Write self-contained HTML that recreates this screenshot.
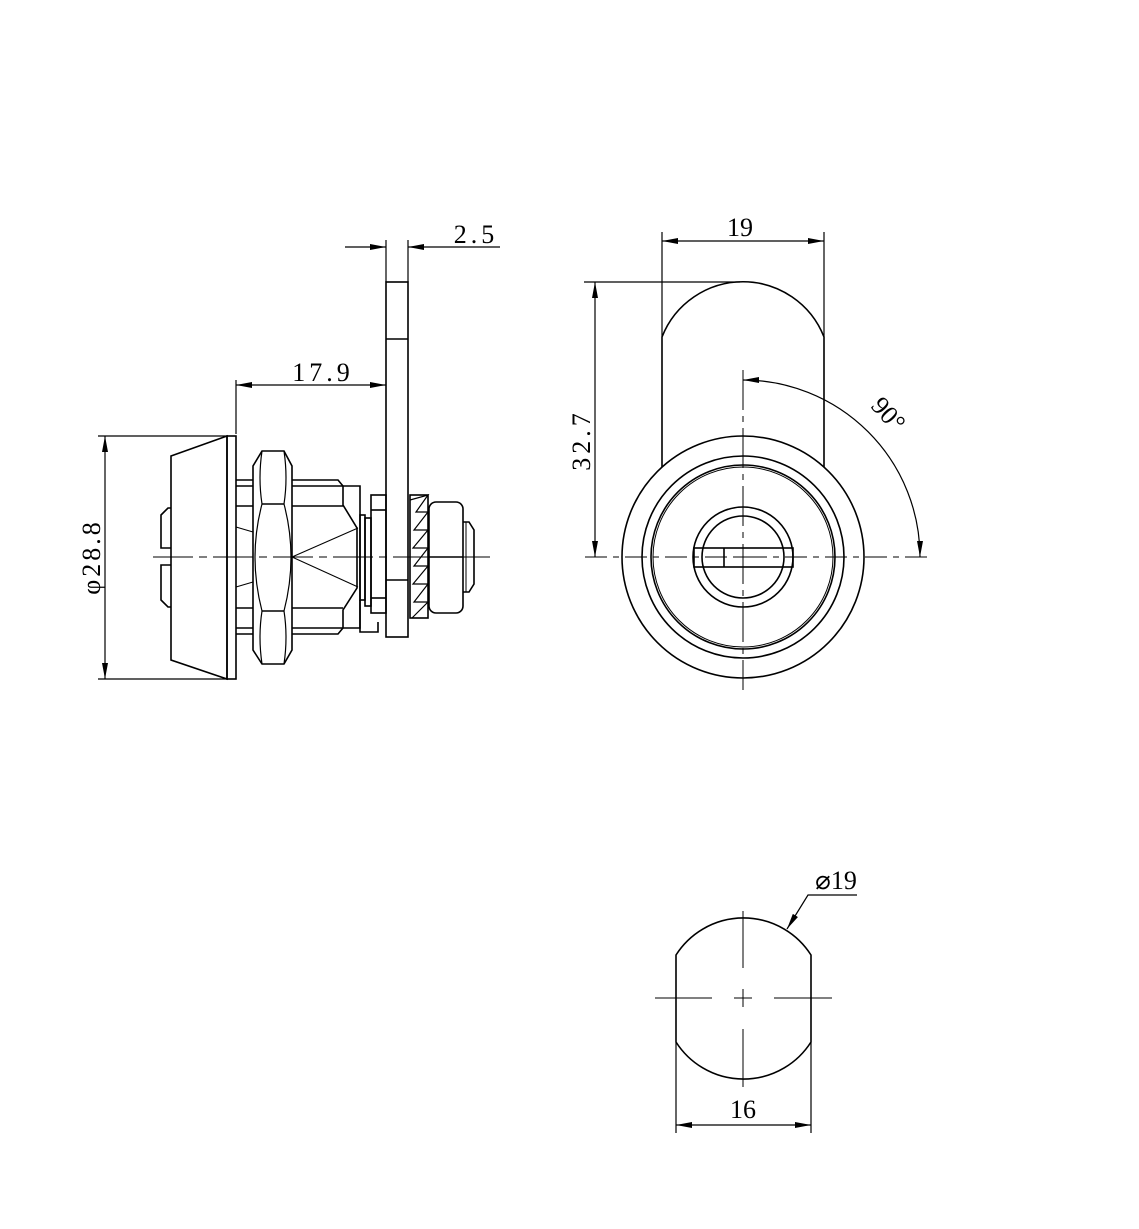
<!DOCTYPE html>
<html><head><meta charset="utf-8"><style>html,body{margin:0;padding:0;background:#fff}svg{display:block}text{font-family:"Liberation Serif",serif;fill:#000}</style></head>
<body>
<svg width="1139" height="1229" viewBox="0 0 1139 1229" xmlns="http://www.w3.org/2000/svg">
<defs>
<marker id="a" viewBox="0 0 16 6" refX="16" refY="3" markerWidth="16" markerHeight="6" orient="auto-start-reverse" markerUnits="userSpaceOnUse"><path d="M0,0 L16,3 L0,6z" fill="#000"/></marker>
</defs>
<g fill="none" stroke="#000" stroke-width="1.6">
<!-- SIDE VIEW -->
<line x1="153" y1="557" x2="490" y2="557" stroke-width="1" stroke-dasharray="40,6,8,6"/>
<polygon points="171,456 227,436 227,679 171,660"/>
<rect x="227" y="436" width="9" height="243"/>
<path d="M171,508 L168,508 L161,515 L161,548 L171,548"/>
<path d="M171,607 L168,607 L161,600 L161,565 L171,565"/>
<line x1="236" y1="480" x2="253" y2="480"/><line x1="236" y1="486" x2="253" y2="486"/>
<line x1="236" y1="506" x2="253" y2="506"/><line x1="236" y1="608" x2="253" y2="608"/>
<line x1="236" y1="628" x2="253" y2="628"/><line x1="236" y1="634" x2="253" y2="634"/>
<line x1="236" y1="527" x2="253" y2="532" stroke-width="1"/><line x1="236" y1="587" x2="253" y2="582" stroke-width="1"/>
<!-- hex nut -->
<path d="M262,451 L284,451 L292,466 L292,650 L284,664 L262,664 L253,650 L253,466 Z"/>
<path d="M262,451 Q258,478 262,504 M284,451 Q288,478 284,504" stroke-width="1.2"/>
<line x1="262" y1="504" x2="284" y2="504"/>
<line x1="262" y1="611" x2="284" y2="611"/>
<path d="M262,504 Q248,557 262,611 M284,504 Q298,557 284,611" stroke-width="1.2"/>
<path d="M262,611 Q258,637 262,664 M284,611 Q288,637 284,664" stroke-width="1.2"/>
<!-- body right of nut -->
<path d="M292,480 L338,480 L343,486 L343,505 L357,528 L357,588 L343,610 L343,628 L338,634 L292,634"/>
<line x1="292" y1="486" x2="343" y2="486"/><line x1="292" y1="506" x2="343" y2="506"/>
<line x1="292" y1="608" x2="343" y2="608"/><line x1="292" y1="628" x2="343" y2="628"/>
<path d="M343,486 L360,486 L360,628 L343,628"/>
<line x1="292" y1="557" x2="358" y2="528" stroke-width="1"/><line x1="292" y1="557" x2="358" y2="587" stroke-width="1"/>
<rect x="360" y="515" width="5" height="85"/>
<path d="M360,600 L360,632 L378,632 L378,622"/>
<rect x="365" y="518" width="6" height="88"/>
<rect x="371" y="495" width="15" height="118"/>
<line x1="371" y1="510" x2="386" y2="510"/><line x1="371" y1="598" x2="386" y2="598"/>
<rect x="386" y="282" width="22" height="355"/>
<line x1="386" y1="339" x2="408" y2="339"/>
<line x1="386" y1="580" x2="408" y2="580"/>
<rect x="410" y="495" width="18" height="123"/>
<path d="M410,500 L428,495 L416,512 L428,512 L414,530 L428,530 L413,548 L428,548 L414,566 L428,566 L413,584 L428,584 L414,602 L428,602 L412,618" stroke-width="1.2"/>
<rect x="429" y="502" width="34" height="111" rx="7"/>
<line x1="429" y1="557" x2="463" y2="557"/>
<path d="M463,522 L469,522 L474,530 L474,584 L469,592 L463,592"/>
<line x1="466" y1="522" x2="466" y2="592" stroke-width="1"/>
</g>
<g stroke="#000" stroke-width="1.2" fill="none">
<line x1="227" y1="436" x2="98" y2="436"/><line x1="227" y1="679" x2="98" y2="679"/>
<line x1="105" y1="436" x2="105" y2="679" marker-start="url(#a)" marker-end="url(#a)"/>
<line x1="236" y1="380" x2="236" y2="434"/>
<line x1="236" y1="385" x2="386" y2="385" marker-start="url(#a)" marker-end="url(#a)"/>
<line x1="386" y1="240" x2="386" y2="282"/><line x1="408" y1="240" x2="408" y2="282"/>
<line x1="345" y1="247" x2="386" y2="247" marker-end="url(#a)"/>
<line x1="500" y1="247" x2="408" y2="247" marker-end="url(#a)"/>
</g>
<text x="323" y="381" font-size="26" text-anchor="middle" letter-spacing="4">17.9</text>
<text x="476" y="243" font-size="26" text-anchor="middle" letter-spacing="4">2.5</text>
<text transform="translate(100,557) rotate(-90)" font-size="26" text-anchor="middle" letter-spacing="3">φ28.8</text>

<!-- FRONT VIEW -->
<g fill="none" stroke="#000" stroke-width="1.6">
<path d="M662,467 L662,337 A87,87 0 0 1 824,337 L824,467"/>
<circle cx="743" cy="557" r="121"/>
<circle cx="743" cy="557" r="101"/>
<circle cx="743" cy="557" r="92"/>
<circle cx="743" cy="557" r="90" stroke-width="1"/>
<circle cx="743" cy="557" r="50"/>
<circle cx="743" cy="557" r="41"/>
<rect x="694" y="548" width="99" height="19"/>
<line x1="724" y1="548" x2="724" y2="567"/>
</g>
<g stroke="#000" stroke-width="1" fill="none">
<line x1="585" y1="557" x2="932" y2="557" stroke-dasharray="22,6,6,6"/>
<line x1="743" y1="370" x2="743" y2="690" stroke-dasharray="40,6,6,6"/>
<line x1="738" y1="557" x2="748" y2="557"/><line x1="743" y1="552" x2="743" y2="562"/>
</g>
<g stroke="#000" stroke-width="1.2" fill="none">
<line x1="662" y1="232" x2="662" y2="337"/><line x1="824" y1="232" x2="824" y2="337"/>
<line x1="662" y1="241" x2="824" y2="241" marker-start="url(#a)" marker-end="url(#a)"/>
<line x1="584" y1="282" x2="740" y2="282"/>
<line x1="595" y1="282" x2="595" y2="557" marker-start="url(#a)" marker-end="url(#a)"/>
<path d="M743,380 A177,177 0 0 1 920,557" marker-start="url(#a)" marker-end="url(#a)"/>
</g>
<text x="740" y="236" font-size="26" text-anchor="middle">19</text>
<text transform="translate(590,440) rotate(-90)" font-size="26" text-anchor="middle" letter-spacing="4">32.7</text>
<text transform="translate(882,420) rotate(48)" font-size="26" text-anchor="middle">90°</text>

<!-- BOTTOM VIEW -->
<g fill="none" stroke="#000" stroke-width="1.6">
<path d="M676,955 A80,80 0 0 1 811,955 L811,1042 A80,80 0 0 1 676,1042 Z"/>
</g>
<g stroke="#000" stroke-width="1" fill="none">
<line x1="655" y1="998" x2="712" y2="998"/><line x1="734" y1="998" x2="752" y2="998"/><line x1="774" y1="998" x2="832" y2="998"/>
<line x1="743" y1="911" x2="743" y2="968"/><line x1="743" y1="989" x2="743" y2="1007"/><line x1="743" y1="1029" x2="743" y2="1087"/>
</g>
<g stroke="#000" stroke-width="1.2" fill="none">
<line x1="676" y1="1042" x2="676" y2="1133"/><line x1="811" y1="1042" x2="811" y2="1133"/>
<line x1="676" y1="1125" x2="811" y2="1125" marker-start="url(#a)" marker-end="url(#a)"/>
<polyline points="857,895 808,895 787,929" marker-end="url(#a)"/>
</g>
<text x="743" y="1118" font-size="26" text-anchor="middle">16</text>
<text x="836" y="889" font-size="26" text-anchor="middle">⌀19</text>
</svg>
</body></html>
